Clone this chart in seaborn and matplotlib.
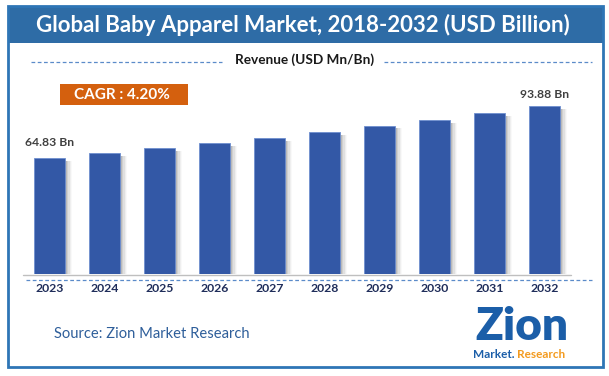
import matplotlib
matplotlib.use("Agg")
import matplotlib.pyplot as plt
import seaborn as sns
import pandas as pd
import numpy as np
from matplotlib.patches import Rectangle

years = ["2023", "2024", "2025", "2026", "2027", "2028", "2029", "2030", "2031", "2032"]
revenue = [64.83, 67.6, 70.4, 73.2, 76.0, 79.4, 82.8, 86.1, 89.9, 93.88]
label_first = "64.83 Bn"
label_last = "93.88 Bn"
title = "Global Baby Apparel Market, 2018-2032 (USD Billion)"
subtitle = "Revenue (USD Mn/Bn)"
cagr = "CAGR : 4.20%"
source = "Source: Zion Market Research"

W, H = 609, 376
sns.set_theme(style="white")
plt.rcParams['font.family'] = ['Lato', 'DejaVu Sans']

fig = plt.figure(figsize=(W / 100, H / 100), dpi=100)

def fx(px):
    return px / W

def fy(py):
    return 1 - py / H

# Axes placement in pixels
ax_l, ax_r, ax_t, ax_b = 20, 590, 60, 274
ax = fig.add_axes([fx(ax_l), fy(ax_b), (ax_r - ax_l) / W, (ax_b - ax_t) / H])
ax.set_facecolor("none")

df = pd.DataFrame({"year": years, "revenue": revenue})

# shadows
xs = np.arange(len(years))
bw = 0.575
for k, a in enumerate([0.10, 0.08, 0.06, 0.04, 0.025]):
    off = 0.03 + 0.025 * k
    ax.bar(xs + off, np.array(revenue) - 1.5, width=bw, bottom=0, color="black",
           alpha=a, linewidth=0, zorder=1)

sns.barplot(data=df, x="year", y="revenue", color="#3358A6", saturation=1,
            width=bw, ax=ax, zorder=3)
for p in ax.patches[-len(years):]:
    p.set_edgecolor("#6F8FCF")
    p.set_linewidth(0.6)

px_per_unit = 1.79
ax.set_ylim(0, (ax_b - ax_t) / px_per_unit)
ax.set_xlim((ax_l - 49.5) / 55.0, (ax_r - 49.5) / 55.0)
ax.set_xticks([])
ax.set_yticks([])
ax.set_xlabel("")
ax.set_ylabel("")
for s in ax.spines.values():
    s.set_visible(False)

ax.text(0, revenue[0] + 5.5, label_first, ha="center", va="bottom",
        fontsize=8.7, fontweight="bold", color="#404040")
ax.text(9, revenue[-1] + 3.5, label_last, ha="center", va="bottom",
        fontsize=8.7, fontweight="bold", color="#404040")

# year labels
for i, y in enumerate(years):
    fig.text(fx(49.5 + 55.0 * i), fy(289), y, ha="center", va="center",
             fontsize=8.8, fontweight="bold", color="#1F2D5A")

# baseline and dashed line
fig.add_artist(plt.Line2D([fx(23), fx(571)], [fy(274.5), fy(274.5)], color="#BFBFBF", lw=1))
fig.add_artist(plt.Line2D([fx(26), fx(592)], [fy(280), fy(280)], color="#5B8BC9", lw=0.9,
                          linestyle=(0, (3, 2))))

# border and title band
fig.add_artist(Rectangle((fx(8), fy(43)), (603 - 8) / W, (43 - 6) / H,
                         transform=fig.transFigure, facecolor="#2E6CA6", edgecolor="none"))
fig.add_artist(Rectangle((fx(8), fy(367)), (603 - 8) / W, (367 - 6) / H,
                         transform=fig.transFigure, facecolor="none", edgecolor="#2E75B6", lw=2))
fig.text(fx(303), fy(25), title, ha="center", va="center", fontsize=16,
         fontweight="bold", color="white")

# subtitle with dashed lines
fig.text(fx(305), fy(60), subtitle, ha="center", va="center", fontsize=9.8,
         fontweight="bold", color="#1A1A1A")
for x0, x1 in [(31, 222), (384, 592)]:
    fig.add_artist(plt.Line2D([fx(x0), fx(x1)], [fy(62), fy(62)], color="#5B8BC9", lw=0.9,
                              linestyle=(0, (3, 2))))

# CAGR box
fig.add_artist(Rectangle((fx(60), fy(105)), (188 - 60) / W, (105 - 84) / H,
                         transform=fig.transFigure, facecolor="#D4600E", edgecolor="none"))
fig.text(fx(122), fy(95), cagr, ha="center", va="center", fontsize=11,
         fontweight="bold", color="white")

# source
fig.text(fx(54), fy(334), source, ha="left", va="center", fontsize=10.6,
         color="#2E5E9A")

# logo
fig.text(fx(522), fy(327), "Zion", ha="center", va="center", fontsize=33,
         fontweight="heavy", color="#1B5EA8")
fig.text(fx(473), fy(354), "Market.", ha="left", va="center", fontsize=8.5,
         fontweight="bold", color="#1B5EA8")
fig.text(fx(517), fy(354), "Research", ha="left", va="center", fontsize=8.5,
         fontweight="bold", color="#F39A1E")

fig.savefig("out.png", dpi=100)
